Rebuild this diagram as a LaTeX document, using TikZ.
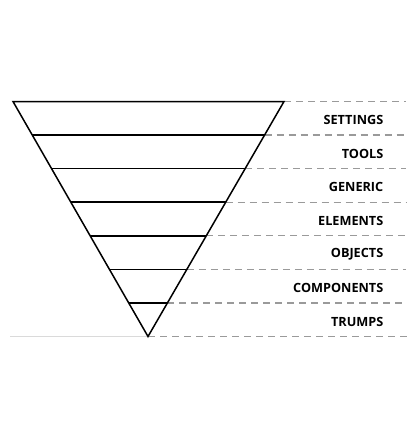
\documentclass[tikz,border=0pt]{standalone}
\usepackage{fontspec}
\setmainfont{Open Sans}
\usetikzlibrary{calc}
\definecolor{guidegrey}{HTML}{9A9A9A}
\definecolor{floorgrey}{HTML}{DADADA}
\tikzset{
  funnel/.style={line width=1.5pt, black, line join=miter},
  levelline/.style={line width=1.5pt, black},
  guideline/.style={line width=1.2pt, guidegrey, dash pattern=on 7pt off 5pt},
  floorline/.style={line width=0.9pt, floorgrey},
  levellabel/.style={anchor=east, inner sep=0pt, font=\bfseries\fontsize{12.7}{15}\selectfont}
}
\begin{document}
\begin{tikzpicture}[x=1pt, y=-1pt]
  \useasboundingbox (0,0) rectangle (420,440);
  % triangle corners
  \coordinate (tl) at (13,101.5);
  \coordinate (tr) at (284,101.5);
  \coordinate (apex) at (148,336.5);
  \coordinate (floorstart) at (10,336.5);
  % faint floor line
  \draw[floorline] (floorstart) -- (apex);
  % dashed guides to the right of each level
  \foreach \k in {0,...,7} {
    \coordinate (r\k) at ($(tr)!\k/7!(apex)$);
    \coordinate (l\k) at ($(tl)!\k/7!(apex)$);
    \coordinate (g\k) at (406,0 |- r\k);
  }
  \coordinate (g7) at (409,336.5);
  \foreach \k in {0,...,7} {
    \draw[guideline] (r\k) -- (g\k);
  }
  % inverted triangle and level lines
  \draw[funnel] (tl) -- (tr) -- (apex) -- cycle;
  \foreach \k in {1,...,6} {
    \draw[levelline] (l\k) -- (r\k);
  }
  % labels
  \foreach \txt [count=\i] in {SETTINGS,TOOLS,GENERIC,ELEMENTS,OBJECTS,COMPONENTS,TRUMPS} {
    \pgfmathsetmacro{\ya}{101.5+(\i-0.5)*235/7+2}
    \node[levellabel] (lab\i) at (383.5,\ya) {\txt};
  }
\end{tikzpicture}
\end{document}
